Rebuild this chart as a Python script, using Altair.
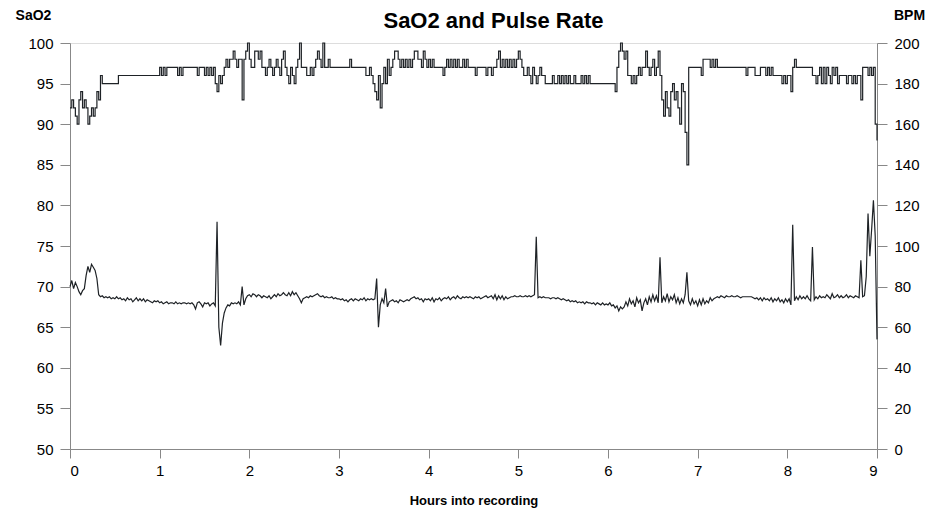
import altair as alt
import pandas as pd

# sampling interval of the recording (hours)
STEP_H = 0.02

# SaO2 (%) read every 0.02 h from 0 to 9 h
SAO2 = [
    92, 93, 92, 91, 90, 93, 94, 92, 93, 92,
    90, 91, 92, 91, 92, 94, 93, 96, 95, 95,
    95, 95, 95, 95, 95, 95, 95, 96, 96, 96,
    96, 96, 96, 96, 96, 96, 96, 96, 96, 96,
    96, 96, 96, 96, 96, 96, 96, 96, 96, 96,
    97, 96, 97, 96, 97, 97, 97, 97, 97, 97,
    96, 97, 96, 97, 97, 97, 97, 97, 97, 97,
    97, 96, 97, 97, 97, 96, 97, 96, 97, 96,
    97, 95, 94, 96, 95, 96, 97, 98, 97, 98,
    98, 99, 98, 97, 98, 98, 93, 98, 99, 100,
    98, 97, 97, 99, 99, 98, 99, 97, 97, 96,
    97, 98, 97, 96, 97, 98, 97, 96, 98, 99,
    97, 96, 95, 97, 96, 95, 97, 98, 100, 97,
    97, 97, 96, 96, 97, 96, 97, 98, 99, 98,
    97, 100, 97, 97, 98, 97, 97, 97, 97, 97,
    97, 97, 97, 97, 97, 97, 98, 97, 97, 97,
    97, 97, 97, 97, 97, 96, 96, 97, 96, 95,
    94, 93, 96, 92, 95, 97, 95, 98, 96, 97,
    98, 99, 99, 98, 97, 98, 97, 98, 97, 98,
    97, 98, 99, 99, 98, 98, 97, 99, 98, 97,
    98, 97, 98, 97, 97, 97, 97, 97, 96, 97,
    98, 97, 98, 97, 98, 97, 98, 97, 97, 98,
    97, 98, 97, 97, 97, 97, 96, 97, 97, 97,
    97, 97, 96, 97, 97, 96, 97, 97, 98, 99,
    97, 98, 97, 98, 97, 98, 97, 98, 97, 98,
    99, 98, 97, 96, 96, 97, 96, 95, 97, 96,
    95, 96, 97, 96, 96, 95, 95, 95, 95, 96,
    95, 95, 96, 95, 96, 95, 96, 95, 96, 95,
    95, 96, 95, 95, 95, 96, 95, 96, 95, 96,
    95, 95, 95, 95, 95, 95, 95, 95, 95, 95,
    95, 95, 95, 95, 94, 97, 99, 100, 99, 98,
    99, 96, 96, 95, 96, 95, 96, 97, 96, 97,
    97, 99, 97, 96, 97, 98, 96, 97, 99, 96,
    93, 91, 94, 92, 91, 94, 95, 93, 94, 92,
    90, 95, 94, 89, 85, 97, 97, 97, 97, 97,
    97, 97, 96, 98, 98, 98, 98, 97, 98, 97,
    98, 97, 97, 97, 97, 97, 97, 97, 97, 97,
    97, 97, 97, 97, 97, 97, 97, 96, 97, 97,
    97, 97, 96, 96, 96, 97, 97, 97, 96, 97,
    96, 97, 96, 96, 96, 96, 96, 95, 96, 95,
    96, 96, 94, 97, 98, 97, 97, 97, 97, 97,
    97, 97, 97, 97, 96, 96, 95, 96, 97, 95,
    97, 95, 97, 96, 95, 97, 96, 97, 95, 96,
    96, 96, 96, 95, 96, 96, 95, 96, 95, 96,
    96, 93, 97, 97, 97, 96, 97, 96, 97, 90,
    88,
]

# Pulse rate (BPM) read every 0.02 h from 0 to 9 h
BPM = [
    80, 83, 79, 82, 80, 77.5, 76, 78, 79, 85.5,
    90, 87, 91, 89.5, 88, 84, 76, 75, 75.5, 74.5,
    75, 74.5, 75, 74, 74.5, 74, 75, 74, 74.5, 73.5,
    74, 73, 74.5, 73.5, 74, 72.5, 73.5, 74.5, 73, 74,
    73, 74, 72.5, 73.5, 73, 72.5, 72, 73, 72.5, 73,
    72, 72.5, 71.5, 72, 72.5, 71.5, 72, 72, 71.5, 72.5,
    71.5, 72, 71.5, 72, 72, 71.5, 72, 71.5, 72, 71,
    69, 72, 72.5, 71.5, 70, 72, 71.5, 72, 70.5, 71.5,
    72, 70.5, 112, 60, 51, 62, 67, 69.5, 71, 70.5,
    72, 71.5, 72, 71.5, 72.5, 71, 80, 71, 74, 75.5,
    76, 75, 76.5, 76, 75, 76, 75.5, 74.5, 75.5, 75,
    74.5, 75.5, 74, 75, 76, 75, 76.5, 75.5, 76, 77,
    76, 75.5, 77, 75.5, 77.5, 76, 77, 75.5, 74, 72,
    74, 74.5, 75, 74.5, 75.5, 75, 75.5, 76, 76.5, 75.5,
    75, 75.5, 74.5, 75, 74.5, 74.5, 75, 74, 74.5, 74,
    74, 73.5, 74, 73, 73.5, 72.5, 73.5, 74, 73, 74,
    73.5, 73, 74, 73.5, 74.5, 73, 74, 73.5, 74, 73.5,
    74, 84, 60, 71, 74, 72, 79, 70, 72.5, 73,
    73.5, 72.5, 73, 72, 73.5, 73, 72.5, 73, 73.5, 73,
    74, 74.5, 75, 74, 74.5, 73.5, 74, 72.5, 74, 73.5,
    74, 73, 74.5, 72.5, 74, 73.5, 74.5, 73, 74, 74.5,
    74, 75, 73.5, 74.5, 75, 74, 75.5, 74.5, 74, 75,
    74.5, 75, 74.5, 75, 74.5, 74, 75, 74.5, 75, 74,
    74.5, 75, 75.5, 74.5, 75, 75.5, 74, 76, 73.5, 75.5,
    74, 75.5, 73.5, 75, 74, 74.5, 75, 75, 75.5, 75,
    75, 75.5, 75, 75, 75.5, 75, 75.5, 75, 75.5, 76,
    104.5, 74.5, 75, 74.5, 75, 74.5, 74.5, 74.5, 74, 74.5,
    74.5, 74, 74.5, 74, 73.5, 74, 73.5, 73, 73.5, 72.5,
    73, 72.5, 73, 72, 72.5, 72, 72.5, 71.5, 72.5, 72,
    72, 71.5, 72, 71, 72, 71.5, 71, 72, 71, 71.5,
    71, 72, 70.5, 71, 69.5, 70.5, 68, 70, 69, 70,
    72.5, 70.5, 74, 71.5, 73, 70, 74.5, 72, 73.5, 68,
    72, 74, 71, 75, 72.5, 76, 73, 75.5, 72, 94.5,
    72, 75, 73, 76.5, 72.5, 75, 73.5, 76, 72, 74.5,
    71.5, 74, 72, 76, 87, 73, 71, 74, 71.5, 73,
    70.5, 73.5, 71, 74, 71.5, 73, 72, 74.5, 73, 74,
    74.5, 75, 74.5, 75.5, 75, 74.5, 75.5, 75, 75, 75.5,
    75, 75, 75.5, 75, 74.5, 75, 75, 75, 75, 75,
    75, 74.5, 74, 74.5, 73.5, 74.5, 73, 74.5, 73.5, 74,
    73, 74.5, 72.5, 74, 73, 74.5, 72.5, 73.5, 72, 74,
    72.5, 74, 71, 110.5, 73, 75, 73.5, 75.5, 74, 75,
    74, 75.5, 74, 73, 99.5, 73.5, 75, 74, 75.5, 74.5,
    75, 74.5, 76, 75, 74, 76.5, 74.5, 75, 76, 74.5,
    75.5, 74.5, 75, 76, 74.5, 75.5, 75, 74.5, 75.5, 75,
    74.5, 93, 75, 75.5, 85, 116, 95, 108, 122.5, 105,
    54,
]

HOURS = [round(i * STEP_H, 2) for i in range(len(SAO2))]

X_TICKS = [0, 1, 2, 3, 4, 5, 6, 7, 8, 9]
SAO2_TICKS = [50, 55, 60, 65, 70, 75, 80, 85, 90, 95, 100]
BPM_TICKS = [0, 20, 40, 60, 80, 100, 120, 140, 160, 180, 200]

FONT = "Liberation Sans"
LINE = "#1e2226"

df = pd.DataFrame({"hour": HOURS, "sao2": SAO2, "bpm": BPM})

base = alt.Chart(df).encode(
    x=alt.X(
        "hour:Q",
        scale=alt.Scale(domain=[0, 9], nice=False, zero=False),
        axis=alt.Axis(
            values=X_TICKS, format="d", title="Hours into recording",
            grid=False, tickSize=9, labelPadding=5, titlePadding=16,
            labelFontSize=15, titleFontSize=13, titleFontWeight="bold",
        ),
    )
)

sao2_line = base.mark_line(
    interpolate="step-after", color=LINE, strokeWidth=1.2
).encode(
    y=alt.Y(
        "sao2:Q",
        scale=alt.Scale(domain=[50, 100], nice=False, zero=False),
        axis=alt.Axis(
            orient="left", values=SAO2_TICKS, title="SaO2", grid=False,
            titleAngle=0, titleX=-37, titleY=-28, titleAlign="center",
            titleBaseline="middle", titleFontSize=14, titleFontWeight="bold",
            tickSize=10, labelPadding=7, labelFontSize=15,
        ),
    )
)

bpm_line = base.mark_line(color=LINE, strokeWidth=1.2).encode(
    y=alt.Y(
        "bpm:Q",
        scale=alt.Scale(domain=[0, 200], nice=False, zero=False),
        axis=alt.Axis(
            orient="right", values=BPM_TICKS, title="BPM", grid=False,
            titleAngle=0, titleX=32, titleY=-28, titleAlign="center",
            titleBaseline="middle", titleFontSize=14, titleFontWeight="bold",
            tickSize=10, labelPadding=7, labelFontSize=15,
        ),
    )
)

chart = (
    alt.layer(sao2_line, bpm_line)
    .resolve_scale(y="independent")
    .properties(
        width=807,
        height=406,
        title=alt.TitleParams(
            "SaO2 and Pulse Rate", font=FONT, fontSize=22, fontWeight="bold",
            anchor="middle", frame="group", dx=20, offset=-42,
            baseline="alphabetic", color="black",
        ),
        autosize=alt.AutoSizeParams(type="none"),
        padding={"left": 62, "top": 35, "right": 58, "bottom": 64},
    )
    .configure_view(stroke=None)
    .configure_axis(
        grid=False, domainColor="black", tickColor="black",
        labelColor="black", titleColor="black", domainWidth=1.6,
        tickWidth=1.4, labelFont=FONT, titleFont=FONT,
    )
    .configure(background="white")
)

chart.save("out.html", embed_options={"renderer": "svg", "actions": False})
